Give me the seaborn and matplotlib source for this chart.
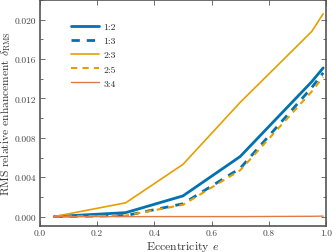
import matplotlib
matplotlib.use("Agg")
import matplotlib.pyplot as plt
import seaborn as sns
import pandas as pd
from matplotlib.ticker import MultipleLocator

ecc = [0.05, 0.3, 0.5, 0.7, 0.95, 0.99]
r12 = [0.0, 0.0004, 0.0021, 0.0061, 0.0137, 0.0151]
r13 = [0.0, 0.0001, 0.0013, 0.0049, 0.0131, 0.0146]
r23 = [0.0, 0.0014, 0.0053, 0.0116, 0.0188, 0.0206]
r25 = [0.0, 0.0001, 0.0012, 0.0047, 0.0127, 0.0142]
r34 = [0.0, 0.0, 0.0, 0.0, 0.00003, 0.00005]
labels = ["1:2", "1:3", "2:3", "2:5", "3:4"]

sns.set_theme(style="ticks")
plt.rcParams["font.family"] = ["cmr10"]
plt.rcParams["mathtext.fontset"] = "cm"
plt.rcParams["axes.formatter.use_mathtext"] = True

series = [r12, r13, r23, r25, r34]
rows = []
for lab, vals in zip(labels, series):
    for x, y in zip(ecc, vals):
        rows.append({"e": x, "d": y, "res": lab})
df = pd.DataFrame(rows)

styles = {
    "1:2": dict(color="#0072B2", lw=2.0, ls="-"),
    "1:3": dict(color="#0072B2", lw=2.0, ls=(0, (3, 2.5))),
    "2:3": dict(color="#E69F00", lw=1.2, ls="-"),
    "2:5": dict(color="#E69F00", lw=1.5, ls=(0, (3, 2.5))),
    "3:4": dict(color="#E07B45", lw=1.0, ls="-"),
}

fig = plt.figure(figsize=(3.32, 2.53), dpi=100)
ax = fig.add_axes([0.12, 0.103, 0.862, 0.893])
for lab in labels:
    st = styles[lab]
    sns.lineplot(data=df[df.res == lab], x="e", y="d", ax=ax, color=st["color"],
                 linewidth=st["lw"], linestyle=st["ls"], label=lab)

ax.set_xlim(0, 1.0)
ax.set_ylim(-0.00095, 0.022)
ax.xaxis.set_major_locator(MultipleLocator(0.2))
ax.yaxis.set_major_locator(MultipleLocator(0.004))
ax.yaxis.set_minor_locator(MultipleLocator(0.002))
ax.yaxis.set_major_formatter(matplotlib.ticker.FormatStrFormatter("%.3f"))
ax.xaxis.set_major_formatter(matplotlib.ticker.FormatStrFormatter("%.1f"))
ax.tick_params(which="both", direction="in", top=True, right=True,
               labelsize=6.8, colors="#555555", labelcolor="#444444", pad=2.5)
ax.tick_params(axis="x", pad=2)
ax.tick_params(which="major", length=3.5, width=0.6)
ax.tick_params(which="minor", length=2, width=0.6)
for s in ax.spines.values():
    s.set_color("#555555")
    s.set_linewidth(1.2)
ax.set_xlabel(r"Eccentricity $e$", fontsize=8.5, color="#333333", labelpad=1)
ax.set_ylabel(r"RMS relative enhancement $\delta_{\rm RMS}$", fontsize=8.3, color="#333333", labelpad=1)
ax.yaxis.set_label_coords(-0.095, 0.5)
ax.xaxis.set_label_coords(0.5, -0.06)
leg = ax.legend(loc="upper left", bbox_to_anchor=(0.08, 0.94), frameon=False,
                fontsize=7, handlelength=2.8, labelspacing=0.55, handletextpad=0.5)
fig.savefig("out.png", dpi=100)
